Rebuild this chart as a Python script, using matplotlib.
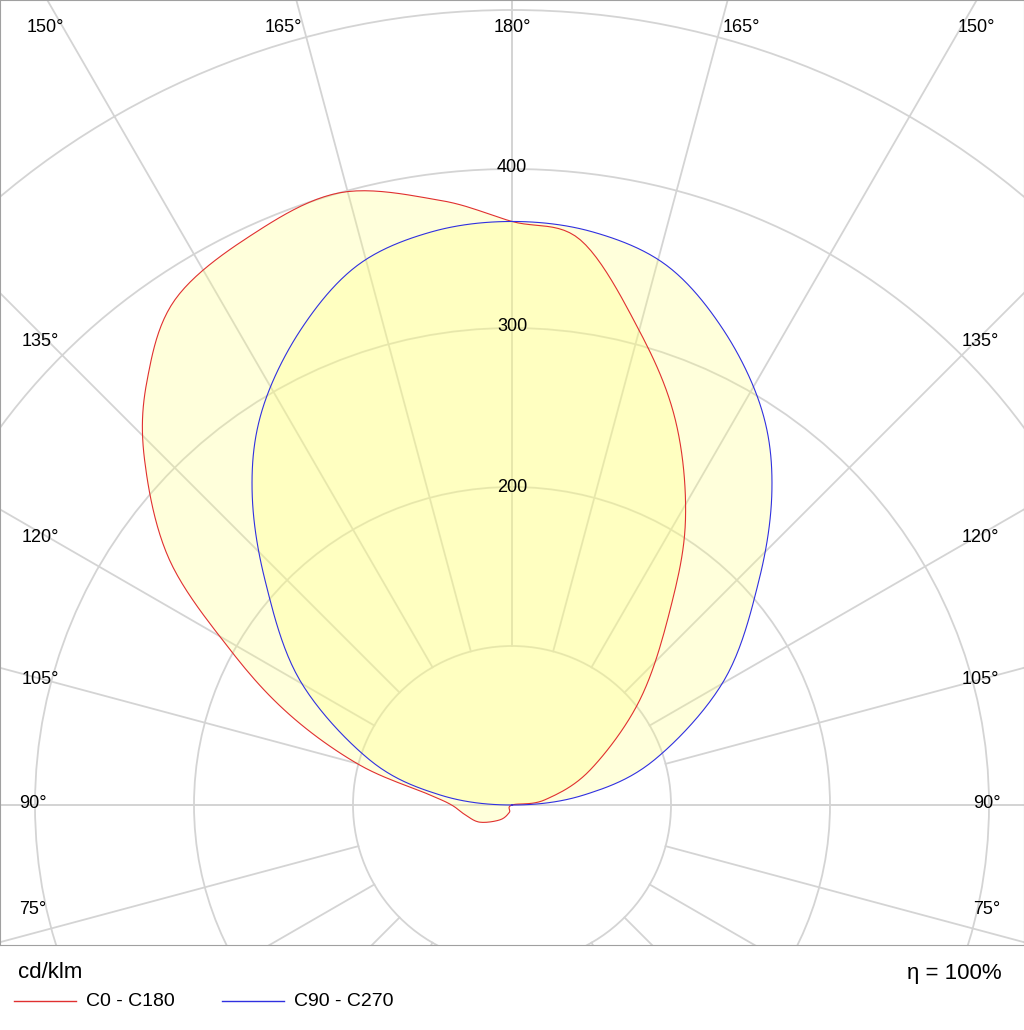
import numpy as np
import matplotlib
matplotlib.use("Agg")
import matplotlib.pyplot as plt
from matplotlib.patches import Circle

plt.rcParams["font.family"] = "Liberation Sans"

# C90-C270 (symmetric), gamma in degrees, intensity cd/klm
blue_gamma = [90, 98, 107.6, 120.5, 132.3, 140.5, 147.7, 156, 164, 172, 180]
blue_int = [0, 46, 94, 155, 210, 257, 294, 327, 353, 364, 367]

# C0 side (left)
c0_gamma = [0, 20, 39, 62, 78, 90, 97, 104.7, 112.1, 118.8, 125.6, 133.2, 139.3, 146.3, 155.3, 164.3, 173.2, 180]
c0_int = [0, 5, 12, 23, 30, 38, 52, 99, 151, 202, 265, 317, 352, 382, 394, 400, 383, 367]
# C180 side (right)
c180_gamma = [90, 99, 114.2, 129.4, 141, 148.7, 157, 165, 173.1, 180]
c180_int = [0, 21, 54, 104, 158, 210, 263, 309, 358, 367]

ring_values = [100, 200, 300, 400, 500, 600]
ring_labels = ["200", "300", "400"]

S = 1.59  # px per cd
W, H = 1024, 1030
fig = plt.figure(figsize=(W/100, H/100), dpi=100)
ax = fig.add_axes([0, 1-945/H, 1, 945/H])
ax.set_xlim(-512/S, 512/S)
ax.set_ylim(-(945-805)/S, 805/S)
ax.set_aspect("auto")
ax.set_xticks([]); ax.set_yticks([])
for s in ax.spines.values():
    s.set_color("#a0a0a0")

def p2d(px, py):
    return (px-512)/S, (805-py)/S

def xy(g, r, side):
    g = np.radians(np.asarray(g, float)); r = np.asarray(r, float)
    return side*r*np.sin(g), -r*np.cos(g)

def smooth_closed(x, y, n=12):
    P = np.column_stack([x, y])
    # drop consecutive duplicates
    keep = [0] + [i for i in range(1, len(P)) if np.hypot(*(P[i]-P[i-1])) > 1e-6]
    P = P[keep]
    if np.hypot(*(P[0]-P[-1])) < 1e-6:
        P = P[:-1]
    m = len(P); out = []
    t = np.linspace(0, 1, n, endpoint=False)[:, None]
    for i in range(m):
        p0, p1, p2, p3 = P[i-1], P[i], P[(i+1) % m], P[(i+2) % m]
        seg = 0.5*((2*p1) + (-p0+p2)*t + (2*p0-5*p1+4*p2-p3)*t**2 + (-p0+3*p1-3*p2+p3)*t**3)
        out.append(seg)
    out = np.vstack(out + [out[0][:1]])
    return out[:, 0], out[:, 1]

gc = "#d4d4d4"
for rv in ring_values:
    ax.add_patch(Circle((0, 0), rv, fill=False, ec=gc, lw=1.3, zorder=1))
for a in range(0, 181, 15):
    for side in (-1, 1):
        x, y = xy([a, a], [100, 1000], side)
        ax.plot(x, y, color=gc, lw=1.3, zorder=1)
ax.plot([-400, 400], [0, 0], color=gc, lw=1.3, zorder=1)

bxl, byl = xy(blue_gamma, blue_int, -1)
bxr, byr = xy(blue_gamma[::-1], blue_int[::-1], 1)
bx, by = smooth_closed(np.concatenate([bxl, bxr]), np.concatenate([byl, byr]))
rxl, ryl = xy(c0_gamma, c0_int, -1)
rxr, ryr = xy(c180_gamma[::-1], c180_int[::-1], 1)
rx, ry = smooth_closed(np.concatenate([rxl, rxr]), np.concatenate([ryl, ryr]))

ax.fill(rx, ry, color="#ffff80", alpha=0.28, lw=0, zorder=2)
ax.fill(bx, by, color="#ffff80", alpha=0.28, lw=0, zorder=2)
ax.plot(rx, ry, color="#e03030", lw=0.8, zorder=3)
ax.plot(bx, by, color="#3030e0", lw=0.8, zorder=3)

fs = 13
for lab, py in zip(ring_labels, [487, 327, 167]):
    ax.text(*p2d(512, py), lab, ha="center", va="center", fontsize=fs, zorder=4)
ang = [("150°", 45, 28), ("165°", 283, 28), ("180°", 512, 28), ("165°", 741, 28), ("150°", 976, 28),
       ("135°", 40, 341), ("120°", 40, 537), ("105°", 40, 679), ("90°", 33, 803), ("75°", 33, 910),
       ("135°", 980, 341), ("120°", 980, 537), ("105°", 980, 679), ("90°", 987, 803), ("75°", 987, 910)]
for lab, px, py in ang:
    ax.text(*p2d(px, py), lab, ha="center", va="center", fontsize=fs, zorder=4)

fig.text(18/W, 1-973/H, "cd/klm", ha="left", va="center", fontsize=16)
fig.text(1002/W, 1-973/H, "η = 100%", ha="right", va="center", fontsize=16)
fig.add_artist(plt.Line2D([14/W, 76/W], [1-1001/H]*2, color="#e03030", lw=1))
fig.text(86/W, 1-1001/H, "C0 - C180", ha="left", va="center", fontsize=14)
fig.add_artist(plt.Line2D([222/W, 284/W], [1-1001/H]*2, color="#3030e0", lw=1))
fig.text(294/W, 1-1001/H, "C90 - C270", ha="left", va="center", fontsize=14)

fig.savefig("out.png", dpi=100)
